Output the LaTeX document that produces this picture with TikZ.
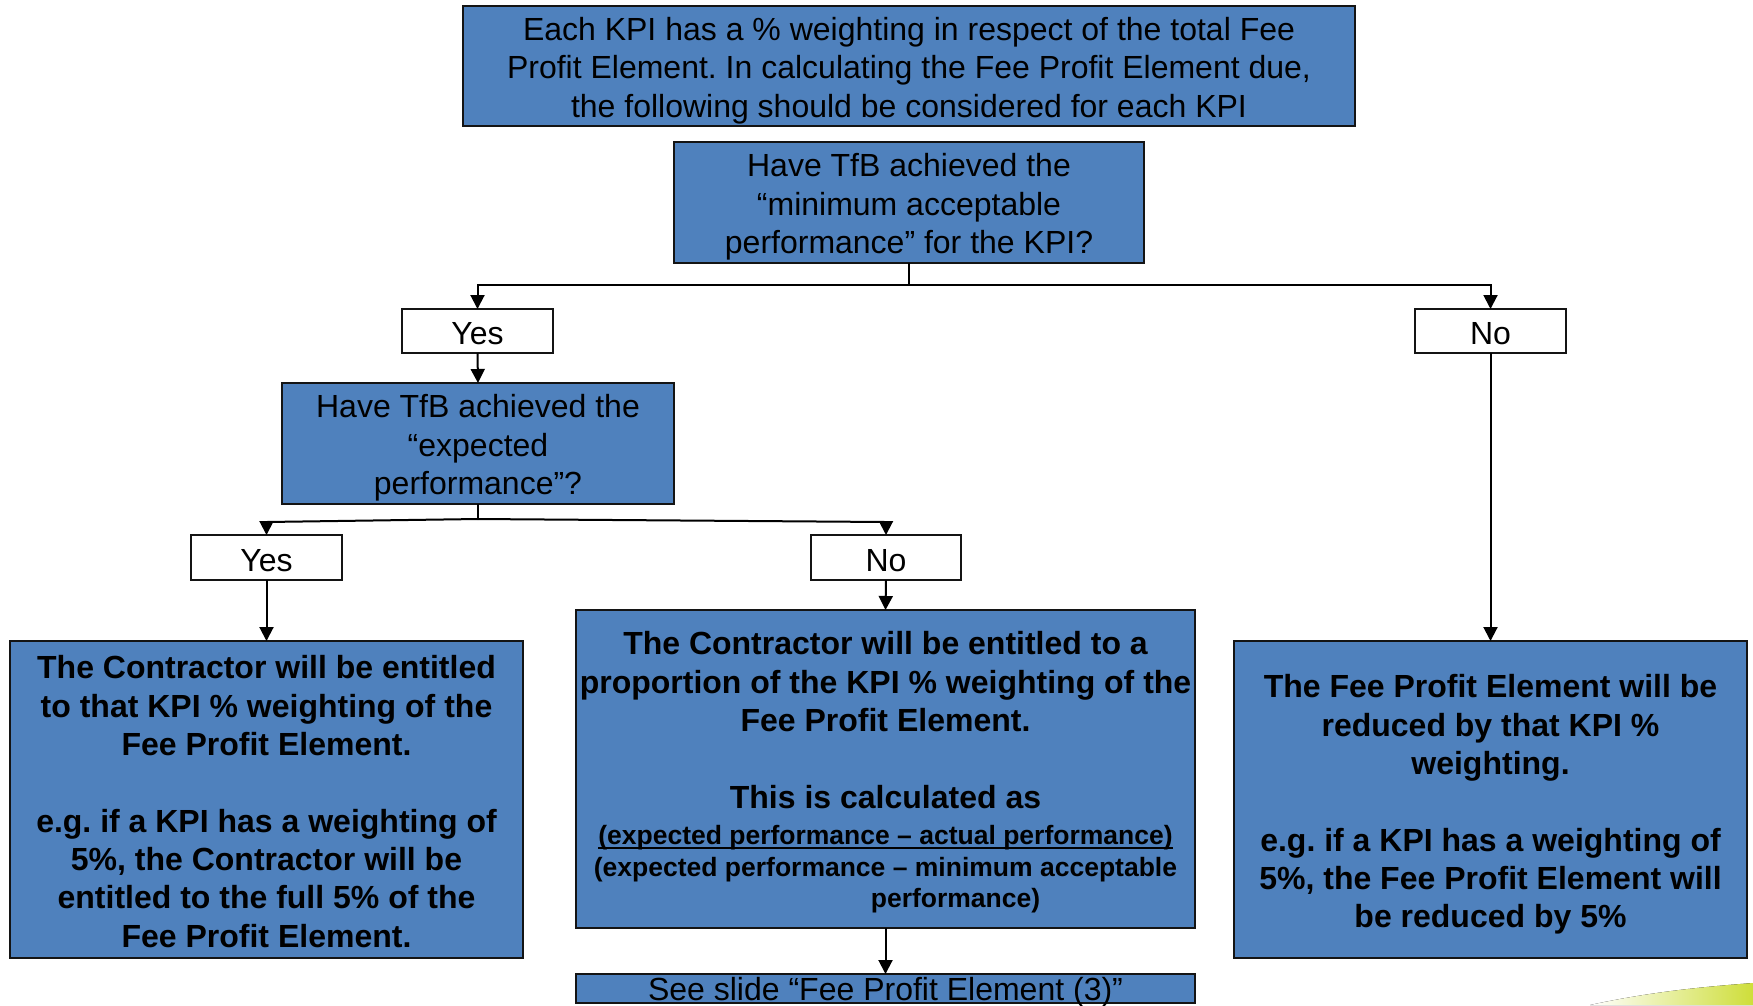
\documentclass[tikz,border=0pt]{standalone}
\usepackage{fontspec}
\setmainfont{Liberation Sans}
\usetikzlibrary{arrows.meta,calc}
\definecolor{kpiblue}{RGB}{79,129,189}
\definecolor{edgedark}{RGB}{20,20,20}
\definecolor{swoosh}{RGB}{206,222,58}
% underline drawn close to the baseline
\newcommand\lowrule[1]{\setbox0=\hbox{#1}\rlap{\rule[-4.5pt]{\wd0}{1.6pt}}\box0}
\frenchspacing
\begin{document}
\begin{tikzpicture}[x=1pt,y=-1pt,
  bluebox/.style={draw=edgedark,line width=2.5pt,fill=kpiblue,inner sep=0pt,outer sep=0pt},
  plaintext/.style={inner sep=0pt,align=center,font=\fontsize{32}{38.6}\selectfont},
  boldtext/.style={inner sep=0pt,align=center,font=\fontsize{32}{38.3}\selectfont\bfseries},
  answer/.style={draw=edgedark,line width=2pt,fill=white,inner sep=0pt,outer sep=0pt,
    text height=27pt,text depth=0pt,font=\fontsize{32}{38.6}\selectfont},
  arr/.style={line width=2pt,draw=black,-{Triangle[length=14pt,width=14pt]}},
  link/.style={line width=2pt,draw=black}]
\useasboundingbox (0,0) rectangle (1753,1005);

% decorative swoosh in the lower right corner
\fill[left color=white,middle color=swoosh!85!white,right color=swoosh]
  (1590,1005) .. controls (1650,992) and (1700,987) .. (1753,983) -- (1753,1005) -- cycle;

% frames
\node (intro) [bluebox,minimum width=892pt,minimum height=120pt] at (909,66) {};
\node (q1) [bluebox,minimum width=470pt,minimum height=121pt] at (909,202.5) {};
\node (yes1) [answer,minimum width=151pt,minimum height=44pt] at (477.5,331) {Yes};
\node (no1) [answer,minimum width=151pt,minimum height=44pt] at (1490.5,331) {No};
\node (q2) [bluebox,minimum width=392pt,minimum height=121pt] at (478,443.5) {};
\node (yes2) [answer,minimum width=151pt,minimum height=45pt] at (266.5,557.5) {Yes};
\node (no2) [answer,minimum width=150pt,minimum height=45pt] at (886,557.5) {No};
\node (resA) [bluebox,minimum width=513pt,minimum height=317pt] at (266.5,799.5) {};
\node (resB) [bluebox,minimum width=619pt,minimum height=318pt] at (885.5,769) {};
\node (resC) [bluebox,minimum width=513pt,minimum height=317pt] at (1490.5,799.5) {};
\node (see) [bluebox,minimum width=619pt,minimum height=29pt] at (885.5,988.5) {};

% texts
\node (introtext) [plaintext] at ($(intro.center)+(0,4.5)$)
  {Each KPI has a \% weighting in respect of the total Fee\\
   Profit Element. In calculating the Fee Profit Element due,\\
   the following should be considered for each KPI};
\node (q1text) [plaintext] at ($(q1.center)+(0,4.5)$)
  {Have TfB achieved the\\ “minimum acceptable\\ performance” for the KPI?};
\node (q2text) [plaintext] at ($(q2.center)+(0,4.5)$)
  {Have TfB achieved the\\ “expected\\ performance”?};
\node (resAtext) [boldtext] at ($(resA.center)+(0,2)$)
  {The Contractor will be entitled\\
   to that KPI \% weighting of the\\
   Fee Profit Element.\\[38.3pt]
   e.g. if a KPI has a weighting of\\
   5\%, the Contractor will be\\
   entitled to the full 5\% of the\\
   Fee Profit Element.};
\node (resBtext) [boldtext] at ($(resB.center)+(0,3.5)$)
  {The Contractor will be entitled to a\\
   proportion of the KPI \% weighting of the\\
   Fee Profit Element.\\[38.3pt]
   This is calculated as\\[-2pt]
   {\fontsize{26.5}{32}\selectfont \lowrule{(expected performance – actual performance)}}\\[-6.5pt]
   {\fontsize{26.5}{32}\selectfont (expected performance – minimum acceptable}\\[-6.5pt]
   {\fontsize{26.5}{32}\selectfont \hspace*{140pt}performance)}};
\node (resCtext) [boldtext] at ($(resC.center)+(0,5)$)
  {The Fee Profit Element will be\\
   reduced by that KPI \%\\
   weighting.\\[38.3pt]
   e.g. if a KPI has a weighting of\\
   5\%, the Fee Profit Element will\\
   be reduced by 5\%};
\node (seetext) [anchor=base,inner sep=0pt,font=\fontsize{32}{38.6}\selectfont]
  at ($(see.south)+(0,-3)$) {See slide “Fee Profit Element (3)”};

% connectors
\draw[link] (q1.south) -- ++(0,22) coordinate (split1);
\draw[arr] (split1) -| (yes1.north);
\draw[arr] (split1) -| (no1.north);
\draw[arr] (yes1.south) -- (q2.north);
\draw[link] (q2.south) -- ++(0,15) coordinate (split2);
\draw[arr] (split2) -- ($(yes2.north)+(0,-13)$) -- (yes2.north);
\draw[arr] (split2) -- ($(no2.north)+(0,-13)$) -- (no2.north);
\draw[arr] (yes2.south) -- (resA.north);
\draw[arr] (no2.south) -- (resB.north);
\draw[arr] (no1.south) -- (resC.north);
\draw[arr] (resB.south) -- (see.north);
\end{tikzpicture}
\end{document}
